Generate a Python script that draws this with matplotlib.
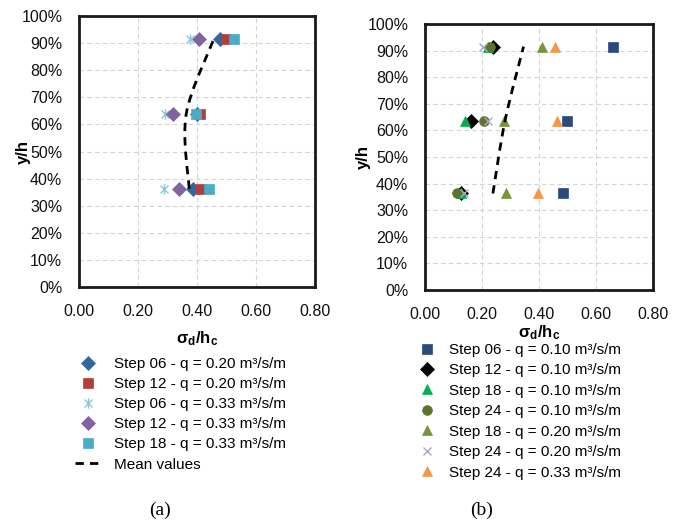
import matplotlib
matplotlib.use("Agg")
from matplotlib import pyplot as plt
from matplotlib.path import Path
from matplotlib.patches import PathPatch
from matplotlib.ticker import PercentFormatter
import numpy as np

plt.rcParams['font.family'] = ['Liberation Sans', 'DejaVu Sans']
plt.rcParams['mathtext.fontset'] = 'custom'
plt.rcParams['mathtext.rm'] = 'Liberation Sans'
plt.rcParams['mathtext.bf'] = 'Liberation Sans:bold'

# relative depth of the three measuring sections
levels = [0.363, 0.637, 0.915]

# (a) sigma_d / h_c per run, bottom -> top
labels_a = ["Step 06 - q = 0.20 m³/s/m",
            "Step 12 - q = 0.20 m³/s/m",
            "Step 06 - q = 0.33 m³/s/m",
            "Step 12 - q = 0.33 m³/s/m",
            "Step 18 - q = 0.33 m³/s/m"]
values_a = [[0.386, 0.400, 0.478],
            [0.413, 0.410, 0.498],
            [0.288, 0.290, 0.376],
            [0.339, 0.319, 0.407],
            [0.441, 0.397, 0.525]]
markers_a = ["D", "s", "asterisk", "D", "s"]
colors_a = ["#35679F", "#B23E3C", "#8CC8D4", "#8064A2", "#4BACC6"]

# (b)
labels_b = ["Step 06 - q = 0.10 m³/s/m",
            "Step 12 - q = 0.10 m³/s/m",
            "Step 18 - q = 0.10 m³/s/m",
            "Step 24 - q = 0.10 m³/s/m",
            "Step 18 - q = 0.20 m³/s/m",
            "Step 24 - q = 0.20 m³/s/m",
            "Step 24 - q = 0.33 m³/s/m"]
values_b = [[0.485, 0.498, 0.660],
            [0.126, 0.161, 0.240],
            [0.125, 0.140, 0.220],
            [0.113, 0.207, 0.228],
            [0.284, 0.277, 0.410],
            [0.137, 0.220, 0.205],
            [0.397, 0.463, 0.456]]
markers_b = ["s", "D", "^", "o", "^", "x", "^"]
colors_b = ["#2A4A7B", "#000000", "#00B050", "#5E722E", "#77933C", "#A8A8C4", "#F79646"]

asterisk = Path([(-1, -1), (1, 1), (-1, 1), (1, -1), (0, -1.3), (0, 1.3)],
                [Path.MOVETO, Path.LINETO, Path.MOVETO, Path.LINETO, Path.MOVETO, Path.LINETO])
sizes = {"D": 6.8, "s": 7, "asterisk": 7.5, "^": 7.5, "o": 7, "x": 6}


def smooth_path(xs, ys):
    # Catmull-Rom through the points, written as cubic Bezier segments
    pts = np.column_stack([xs, ys])
    verts = [pts[0]]
    codes = [Path.MOVETO]
    n = len(pts)
    for i in range(n - 1):
        p_prev = pts[i - 1] if i > 0 else pts[i]
        p_next = pts[i + 2] if i + 2 < n else pts[i + 1]
        c1 = pts[i] + (pts[i + 1] - p_prev) / 6
        c2 = pts[i + 1] - (p_next - pts[i]) / 6
        verts += [c1, c2, pts[i + 1]]
        codes += [Path.CURVE4] * 3
    return Path(verts, codes)


def draw_panel(ax, labels, values, markers, colors):
    for lab, vals, mk, col in zip(labels, values, markers, colors):
        m = asterisk if mk == "asterisk" else mk
        face = "none" if mk in ("asterisk", "x") else col
        ax.plot(vals, levels, linestyle="none", marker=m, markersize=sizes[mk],
                markerfacecolor=face, markeredgecolor=col,
                markeredgewidth=1.0 if mk in ("asterisk", "x") else 0.5,
                label=lab, zorder=3)
    means = np.mean(np.array(values), axis=0)
    patch = PathPatch(smooth_path(means, levels), fill=False, edgecolor="black",
                      linewidth=2, linestyle=(0, (3, 2.2)), zorder=4)
    ax.add_patch(patch)

    ax.set_xlim(0, 0.8)
    ax.set_ylim(0, 1.0)
    ax.set_xticks(np.arange(0, 0.81, 0.2))
    ax.set_yticks(np.arange(0, 1.01, 0.1))
    ax.xaxis.set_major_formatter(lambda v, p: f"{v:.2f}")
    ax.yaxis.set_major_formatter(PercentFormatter(1.0, decimals=0))
    ax.tick_params(axis="both", length=0, labelsize=11.5, colors="#111111")
    ax.tick_params(axis="x", pad=12)
    ax.tick_params(axis="y", pad=12)
    ax.grid(True, color="#D4D4D4", linestyle=(0, (4, 3)), linewidth=0.8)
    ax.set_axisbelow(True)
    for s in ax.spines.values():
        s.set_linewidth(2)
        s.set_color("#1a1a1a")
    ax.set_xlabel(r"$\mathbf{σ_d/h_c}$", fontsize=12, va="center")
    ax.set_ylabel("y/h", fontsize=12, fontweight="bold", va="center")


fig = plt.figure(figsize=(6.83, 5.22), dpi=100)
ax_a = fig.add_axes([0.1157, 0.4502, 0.3455, 0.519])
ax_b = fig.add_axes([0.6223, 0.4444, 0.3338, 0.5096])

draw_panel(ax_a, labels_a, values_a, markers_a, colors_a)
draw_panel(ax_b, labels_b, values_b, markers_b, colors_b)

ax_a.xaxis.set_label_coords(0.5, -0.19)
ax_a.yaxis.set_label_coords(-0.235, 0.5)
ax_b.xaxis.set_label_coords(0.5, -0.16)
ax_b.yaxis.set_label_coords(-0.27, 0.5)

# legends below each panel
handles_a, _ = ax_a.get_legend_handles_labels()
mean_line = plt.Line2D([], [], color="black", linewidth=2, linestyle=(0, (3, 2.2)))
fig.legend(handles_a + [mean_line], labels_a + ["Mean values"],
           loc="upper left", bbox_to_anchor=(75 / 683, 1 - 357 / 522),
           frameon=False, fontsize=11, numpoints=1, handlelength=1.7,
           handletextpad=0.85, labelspacing=0.4, borderpad=0, borderaxespad=0)

fig.legend(*ax_b.get_legend_handles_labels(),
           loc="upper left", bbox_to_anchor=(418 / 683, 1 - 343 / 522),
           frameon=False, fontsize=11, numpoints=1, handlelength=1.2,
           handletextpad=0.8, labelspacing=0.42, borderpad=0, borderaxespad=0)

fig.text(160 / 683, 1 - 510 / 522, "(a)", family="Liberation Serif", fontsize=14,
         ha="center", va="center")
fig.text(482 / 683, 1 - 510 / 522, "(b)", family="Liberation Serif", fontsize=14,
         ha="center", va="center")

fig.savefig("out.png", dpi=100)
